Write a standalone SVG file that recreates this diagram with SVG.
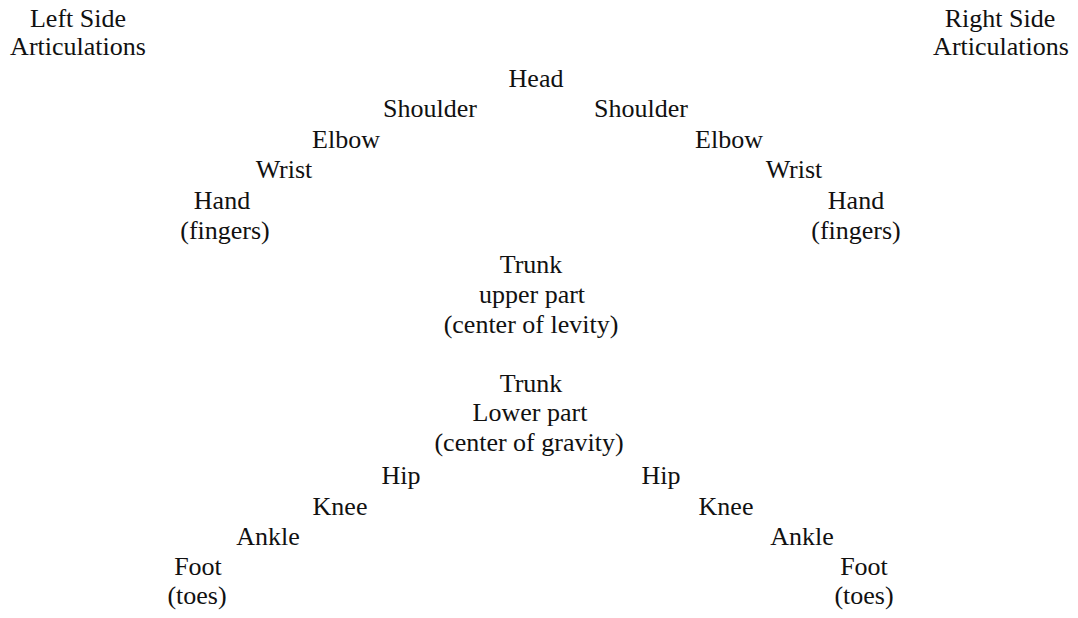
<svg xmlns="http://www.w3.org/2000/svg" width="1078" height="618" viewBox="0 0 1078 618">
  <style>
    text { font-family: "Liberation Serif", "Times New Roman", serif; font-size: 26px; fill: #111; text-anchor: middle; }
  </style>
  <rect width="1078" height="618" fill="#ffffff"/>

  <!-- column headings -->
  <g id="left-heading">
    <text x="78" y="27">Left Side</text>
    <text x="78" y="55">Articulations</text>
  </g>
  <g id="right-heading">
    <text x="1000" y="27">Right Side</text>
    <text x="1001" y="55">Articulations</text>
  </g>

  <!-- upper body -->
  <g id="head"><text x="536" y="87">Head</text></g>
  <g id="shoulder-left"><text x="430" y="117">Shoulder</text></g>
  <g id="shoulder-right"><text x="641" y="117">Shoulder</text></g>
  <g id="elbow-left"><text x="346" y="148">Elbow</text></g>
  <g id="elbow-right"><text x="729" y="148">Elbow</text></g>
  <g id="wrist-left"><text x="284" y="178">Wrist</text></g>
  <g id="wrist-right"><text x="794" y="178">Wrist</text></g>
  <g id="hand-left">
    <text x="222" y="209">Hand</text>
    <text x="225" y="239">(fingers)</text>
  </g>
  <g id="hand-right">
    <text x="856" y="209">Hand</text>
    <text x="856" y="239">(fingers)</text>
  </g>

  <!-- trunk -->
  <g id="trunk-upper">
    <text x="531" y="273">Trunk</text>
    <text x="532" y="303">upper part</text>
    <text x="531" y="333">(center of levity)</text>
  </g>
  <g id="trunk-lower">
    <text x="531" y="392">Trunk</text>
    <text x="530" y="421">Lower part</text>
    <text x="529" y="451">(center of gravity)</text>
  </g>

  <!-- lower body -->
  <g id="hip-left"><text x="401" y="484">Hip</text></g>
  <g id="hip-right"><text x="661" y="484">Hip</text></g>
  <g id="knee-left"><text x="340" y="515">Knee</text></g>
  <g id="knee-right"><text x="726" y="515">Knee</text></g>
  <g id="ankle-left"><text x="268" y="545">Ankle</text></g>
  <g id="ankle-right"><text x="802" y="545">Ankle</text></g>
  <g id="foot-left">
    <text x="198" y="575">Foot</text>
    <text x="197" y="604">(toes)</text>
  </g>
  <g id="foot-right">
    <text x="864" y="575">Foot</text>
    <text x="864" y="604">(toes)</text>
  </g>

  <!-- no connectors are drawn between the articulations -->
  <g id="connectors"/>
</svg>
